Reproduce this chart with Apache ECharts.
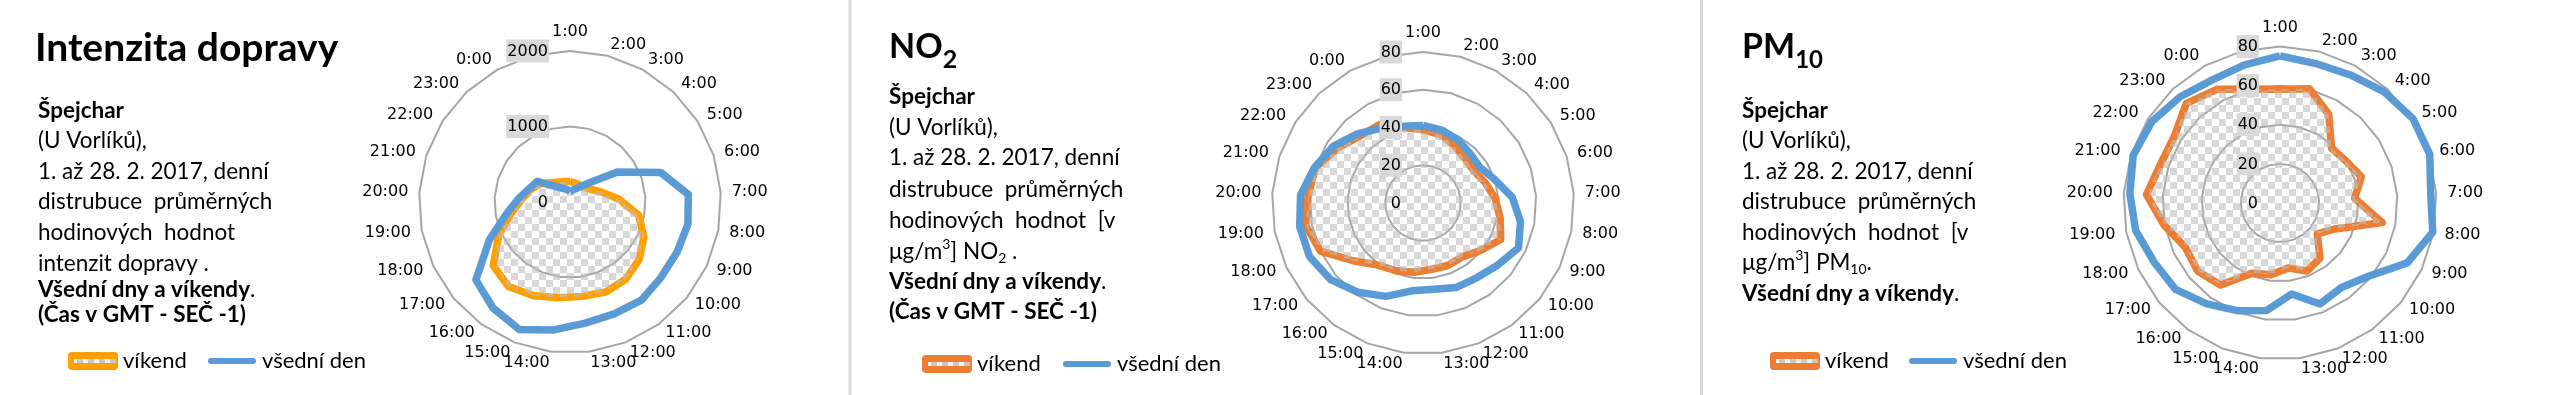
<!DOCTYPE html>
<html><head><meta charset="utf-8">
<script src="https://cdn.jsdelivr.net/npm/echarts@6/dist/echarts.min.js"></script>
<style>html,body{margin:0;padding:0;background:#fff;}#c{width:2553px;height:395px;}</style>
</head><body><div id="c"></div>
<script>
// ---------------- data ----------------
const hours = ['1:00','2:00','3:00','4:00','5:00','6:00','7:00','8:00','9:00','10:00','11:00','12:00',
  '13:00','14:00','15:00','16:00','17:00','18:00','19:00','20:00','21:00','22:00','23:00','0:00',''];
const trafficTicks = [0, 1000, 2000];
const pollutionTicks = [0, 20, 40, 60, 80];
const trafficWeekend = [270,261,257,270,316,434,645,925,1081,1190,1261,1283,1260,1279,1332,1385,1319,1044,794,637,542,455,350,301,280];
const trafficWeekday = [142,166,215,335,743,1264,1571,1589,1566,1566,1608,1593,1617,1708,1818,1735,1618,1180,858,685,570,511,282,207,172];
const no2Weekend = [38.8,37.4,34.7,32.3,31.9,34.7,38.3,41.6,45.5,39.5,35.3,35.6,35.4,37.0,38.6,40.7,48.0,60.0,63.3,61.0,60.0,54.0,48.7,47.5,41.3];
const no2Weekday = [41.1,39.9,38.2,36.2,35.6,40.0,47.4,52.6,55.9,51.5,48.8,48.1,46.0,46.9,53.2,58.5,63.6,66.5,66.5,65.0,60.5,56.2,50.4,45.3,42.0];
const pm10Weekend = [58.2,60.3,51.7,38.5,40.0,43.7,38.2,53.2,31.2,24.7,34.8,37.4,33.5,37.0,38.6,51.8,54.6,53.4,60.3,68.4,64.2,63.9,69.9,66.4,60.1];
const pm10Weekday = [75.2,73.6,74.7,77.9,80.5,80.5,77.2,79.5,71.9,58.7,53.4,55.5,46.9,55.4,59.2,63.7,69.3,71.1,75.1,76.9,78.9,77.6,74.5,71.8,72.9];
const seriesNames = ['víkend', 'všední den'];

// ---------------- helpers ----------------
const FONT = 'Lato';
const BLUE = '#5B9BD5';
// ECharts lays radar indicators counter-clockwise; the reference runs clockwise.
const cw = a => [a[0]].concat(a.slice(1).reverse());

function checker() {
  const c = document.createElement('canvas'); c.width = 14; c.height = 14;
  const g = c.getContext('2d');
  g.fillStyle = 'rgba(190,190,190,0.6)';
  g.fillRect(0, 0, 7, 7); g.fillRect(7, 7, 7, 7);
  return c;
}
const CHECK = checker();

function iconBox(color) {
  const c = document.createElement('canvas'); c.width = 50; c.height = 18;
  const g = c.getContext('2d');
  g.fillStyle = color;
  g.beginPath(); g.moveTo(4,0); g.lineTo(46,0); g.quadraticCurveTo(50,0,50,4); g.lineTo(50,14);
  g.quadraticCurveTo(50,18,46,18); g.lineTo(4,18); g.quadraticCurveTo(0,18,0,14); g.lineTo(0,4);
  g.quadraticCurveTo(0,0,4,0); g.closePath(); g.fill();
  g.fillStyle = '#f2f2f2'; g.fillRect(6, 7, 38, 4);
  g.fillStyle = '#c8c8c8';
  for (let x = 9; x < 44; x += 11) g.fillRect(x, 7, 6, 4);
  return 'image://' + c.toDataURL();
}
function iconLine(color) {
  const c = document.createElement('canvas'); c.width = 50; c.height = 18;
  const g = c.getContext('2d');
  g.strokeStyle = color; g.lineWidth = 6; g.lineCap = 'round';
  g.beginPath(); g.moveTo(4, 9); g.lineTo(46, 9); g.stroke();
  return 'image://' + c.toDataURL();
}

const mctx = document.createElement('canvas').getContext('2d');
function textLine(x, y, size, segs) {
  const out = []; let cx = x;
  segs.forEach(s => {
    const small = s.sub || s.sup;
    const fs = small ? (s.fs || Math.round(size * 0.62)) : size;
    const font = (s.b ? 'bold ' : '') + fs + 'px ' + FONT;
    const dy = s.sub ? (s.dy != null ? s.dy : size * 0.3) : s.sup ? -size * 0.32 : 0;
    mctx.font = font;
    out.push({ type: 'text', x: cx, y: y + dy, silent: true,
      style: { text: s.t, font: font, fill: '#000', verticalAlign: 'middle', align: 'left' } });
    cx += mctx.measureText(s.t).width;
  });
  return out;
}

function radarPair(center, radius, ticks) {
  const mn = ticks[0], mx = ticks[ticks.length - 1];
  const ring = {
    center: center, radius: radius, startAngle: 90, shape: 'polygon',
    splitNumber: ticks.length - 1,
    indicator: cw(hours).map(h => ({ name: h, min: mn, max: mx })),
    axisName: { show: true, color: '#000', fontFamily: 'DejaVu Sans', fontSize: 16 },
    axisNameGap: 11,
    axisLine: { show: false }, axisTick: { show: false }, axisLabel: { show: false },
    splitLine: { lineStyle: { color: '#a6a6a6', width: 2 } },
    splitArea: { show: false }, z: 0
  };
  const lab = {
    center: center, radius: radius, startAngle: 90, shape: 'polygon',
    splitNumber: ticks.length - 1,
    indicator: [{ name: '', min: mn, max: mx }],
    axisName: { show: false },
    axisLine: { show: false }, axisTick: { show: false },
    splitLine: { show: false }, splitArea: { show: false }, z: 6,
    axisLabel: { show: true, margin: 21,
      formatter: v => v === 0 ? '{z|0}' : '{b|' + v + '}',
      rich: {
        b: { backgroundColor: '#d9d9d9', padding: [4, 1, 3, 1], fontSize: 16, fontFamily: 'DejaVu Sans', color: '#000' },
        z: { fontSize: 16, fontFamily: 'DejaVu Sans', color: '#000', padding: [4, 1, 3, 1] }
      } }
  };
  return [ring, lab];
}

function radarSeries(radarIndex, weekend, weekday, orange) {
  return {
    type: 'radar', radarIndex: radarIndex, symbol: 'none', z: 2,
    data: [
      { name: seriesNames[0], value: cw(weekend),
        lineStyle: { color: orange, width: 7.5, join: 'round' },
        itemStyle: { color: orange },
        areaStyle: { color: { image: CHECK, repeat: 'repeat' }, opacity: 1 } },
      { name: seriesNames[1], value: cw(weekday),
        lineStyle: { color: BLUE, width: 7.5, join: 'round' },
        itemStyle: { color: BLUE } }
    ]
  };
}

function legend(name, icon, left, cy) {
  return { show: true, selectedMode: false, left: left, top: cy - 13, padding: 0,
    itemWidth: 50, itemHeight: 18, orient: 'horizontal',
    data: [{ name: name, icon: icon }],
    textStyle: { fontFamily: FONT, fontSize: 22, color: '#000' } };
}

const ORANGE1 = '#FFA000', ORANGE2 = '#ED7D31';
const radars = [].concat(
  radarPair([570, 202], 151, trafficTicks),
  radarPair([1423, 203], 151, pollutionTicks),
  radarPair([2280, 203], 156.5, pollutionTicks)
);

const B = 22.5;
let graphics = [
  { type: 'rect', silent: true, shape: { x: 848.5, y: 0, width: 3, height: 395 }, style: { fill: '#d9d9d9' } },
  { type: 'rect', silent: true, shape: { x: 1700, y: 0, width: 3, height: 395 }, style: { fill: '#d9d9d9' } }
];
// panel 1
graphics = graphics.concat(
  textLine(35, 48, 39, [{ t: 'Intenzita dopravy', b: 1 }]),
  textLine(38, 111, B, [{ t: 'Špejchar', b: 1 }]),
  textLine(38, 141, B, [{ t: '(U Vorlíků),' }]),
  textLine(38, 172, B, [{ t: '1. až 28. 2. 2017, denní' }]),
  textLine(38, 202, B, [{ t: 'distrubuce  průměrných' }]),
  textLine(38, 233, B, [{ t: 'hodinových  hodnot' }]),
  textLine(38, 264, B, [{ t: 'intenzit dopravy .' }]),
  textLine(38, 290, B, [{ t: 'Všední dny a víkendy', b: 1 }, { t: '.' }]),
  textLine(38, 315, B, [{ t: '(Čas v GMT - SEČ -1)', b: 1 }])
);
// panel 2
graphics = graphics.concat(
  textLine(889, 47, 34, [{ t: 'NO', b: 1 }, { t: '2', b: 1, sub: 1, fs: 25, dy: 13 }]),
  textLine(889, 97, B, [{ t: 'Špejchar', b: 1 }]),
  textLine(889, 128, B, [{ t: '(U Vorlíků),' }]),
  textLine(889, 158, B, [{ t: '1. až 28. 2. 2017, denní' }]),
  textLine(889, 190, B, [{ t: 'distrubuce  průměrných' }]),
  textLine(889, 221, B, [{ t: 'hodinových  hodnot  [v' }]),
  textLine(889, 252, B, [{ t: 'μg/m' }, { t: '3', sup: 1 }, { t: '] NO' }, { t: '2', sub: 1 }, { t: ' .' }]),
  textLine(889, 282, B, [{ t: 'Všední dny a víkendy', b: 1 }, { t: '.' }]),
  textLine(889, 312, B, [{ t: '(Čas v GMT - SEČ -1)', b: 1 }])
);
// panel 3
graphics = graphics.concat(
  textLine(1742, 47, 34, [{ t: 'PM', b: 1 }, { t: '10', b: 1, sub: 1, fs: 24, dy: 13 }]),
  textLine(1742, 111, B, [{ t: 'Špejchar', b: 1 }]),
  textLine(1742, 141, B, [{ t: '(U Vorlíků),' }]),
  textLine(1742, 172, B, [{ t: '1. až 28. 2. 2017, denní' }]),
  textLine(1742, 202, B, [{ t: 'distrubuce  průměrných' }]),
  textLine(1742, 233, B, [{ t: 'hodinových  hodnot  [v' }]),
  textLine(1742, 263, B, [{ t: 'μg/m' }, { t: '3', sup: 1 }, { t: '] PM' }, { t: '10', sub: 1 }, { t: '.' }]),
  textLine(1742, 294, B, [{ t: 'Všední dny a víkendy', b: 1 }, { t: '.' }])
);

const chart = echarts.init(document.getElementById('c'), null, { renderer: 'canvas' });
chart.setOption({
  backgroundColor: '#ffffff',
  animation: false,
  radar: radars,
  legend: [
    legend(seriesNames[0], iconBox(ORANGE1), 68, 363),
    legend(seriesNames[1], iconLine(BLUE), 207, 363),
    legend(seriesNames[0], iconBox(ORANGE2), 922, 366),
    legend(seriesNames[1], iconLine(BLUE), 1062, 366),
    legend(seriesNames[0], iconBox(ORANGE2), 1770, 363),
    legend(seriesNames[1], iconLine(BLUE), 1908, 363)
  ],
  series: [
    radarSeries(0, trafficWeekend, trafficWeekday, ORANGE1),
    radarSeries(2, no2Weekend, no2Weekday, ORANGE2),
    radarSeries(4, pm10Weekend, pm10Weekday, ORANGE2)
  ],
  graphic: graphics
});
</script></body></html>
